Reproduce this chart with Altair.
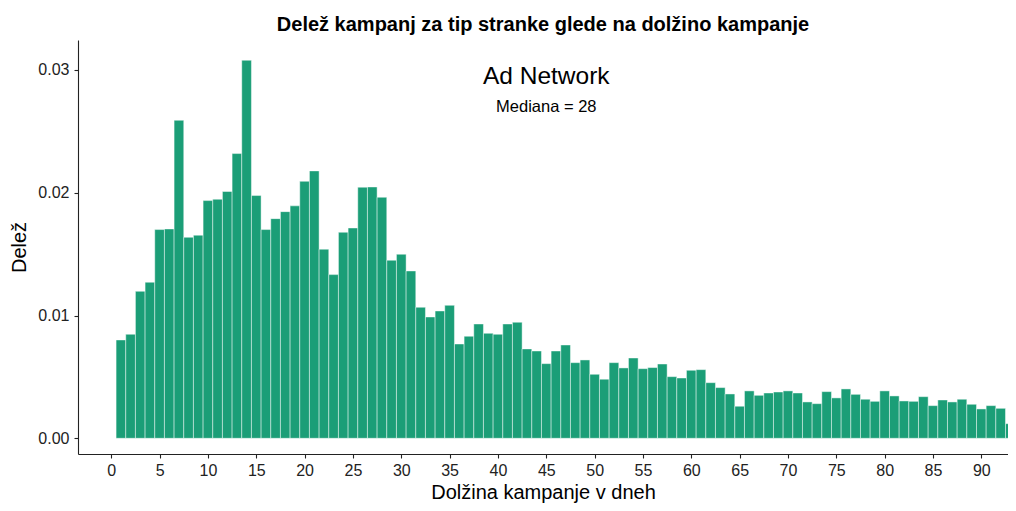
import altair as alt
import pandas as pd

days = list(range(1, 95))
share = [
    0.00801, 0.00847, 0.01197, 0.01271, 0.01700, 0.01705, 0.02590, 0.01637, 0.01654, 0.01936,
    0.01947, 0.02010, 0.02319, 0.03079, 0.01977, 0.01700, 0.01789, 0.01846, 0.01893, 0.02093,
    0.02178, 0.01540, 0.01333, 0.01678, 0.01713, 0.02045, 0.02047, 0.01963, 0.01450, 0.01499,
    0.01363, 0.01067, 0.00988, 0.01037, 0.01083, 0.00768, 0.00831, 0.00931, 0.00855, 0.00847,
    0.00931, 0.00945, 0.00728, 0.00711, 0.00608, 0.00711, 0.00760, 0.00616, 0.00638, 0.00521,
    0.00481, 0.00616, 0.00573, 0.00654, 0.00567, 0.00576, 0.00605, 0.00502, 0.00491, 0.00554,
    0.00559, 0.00453, 0.00413, 0.00361, 0.00261, 0.00386, 0.00350, 0.00369, 0.00377, 0.00386,
    0.00369, 0.00296, 0.00282, 0.00380, 0.00329, 0.00402, 0.00358, 0.00318, 0.00301, 0.00386,
    0.00345, 0.00304, 0.00301, 0.00339, 0.00266, 0.00312, 0.00296, 0.00318, 0.00277, 0.00239,
    0.00266, 0.00244, 0.00119, 0.00168,
]

x_ticks = list(range(0, 95, 5))
y_ticks = [0.0, 0.01, 0.02, 0.03]
x_domain = [-3.44, 92.76]
y_domain = [-0.00128, 0.03244]

panel_label = ["Ad Network"]
median_label = ["Mediana = 28"]
label_x = [45]
panel_y = [0.02945]
median_y = [0.0270]

df = pd.DataFrame({
    "start": [d - 0.5 for d in days],
    "end": [d + 0.5 for d in days],
    "share": share,
})

FONT = "Liberation Sans"

bars = alt.Chart(df).mark_bar(
    color="#1b9e77", stroke="white", strokeWidth=0.6, strokeOpacity=0.75, clip=True
).encode(
    x=alt.X("start:Q",
            scale=alt.Scale(domain=x_domain, nice=False, zero=False),
            axis=alt.Axis(values=x_ticks, title="Dolžina kampanje v dneh",
                          grid=False, format="d")),
    x2="end:Q",
    y=alt.Y("share:Q",
            scale=alt.Scale(domain=y_domain, nice=False, zero=False),
            axis=alt.Axis(values=y_ticks, title="Delež", format=".2f", grid=False)),
    y2=alt.datum(0),
)

t1 = alt.Chart(pd.DataFrame({"x": label_x, "y": panel_y, "t": panel_label})).mark_text(
    font=FONT, fontSize=24.5, color="black", align="center", baseline="middle"
).encode(x="x:Q", y="y:Q", text="t:N")

t2 = alt.Chart(pd.DataFrame({"x": label_x, "y": median_y, "t": median_label})).mark_text(
    font=FONT, fontSize=16.5, color="black", align="center", baseline="middle"
).encode(x="x:Q", y="y:Q", text="t:N")

chart = alt.layer(bars, t1, t2).properties(
    width=930,
    height=414,
    title=alt.TitleParams(
        "Delež kampanj za tip stranke glede na dolžino kampanje",
        font=FONT, fontSize=20, fontWeight="bold", color="black",
        anchor="middle", offset=5,
    ),
    autosize=alt.AutoSizeParams(type="none"),
    padding={"left": 70, "top": 32, "right": 0, "bottom": 49},
).configure_view(stroke=None).configure_axis(
    domainColor="#222222", domainWidth=1.1, tickColor="#222222", tickSize=4, tickWidth=1.1,
    labelFont=FONT, labelFontSize=16, labelColor="#222222",
    titleFont=FONT, titleFontSize=20, titleFontWeight="normal", titleColor="black",
).configure_axisX(labelPadding=4, titlePadding=4).configure_axisY(labelPadding=5, titlePadding=8)

chart.save("out.html", embed_options={"renderer": "svg", "actions": False})
